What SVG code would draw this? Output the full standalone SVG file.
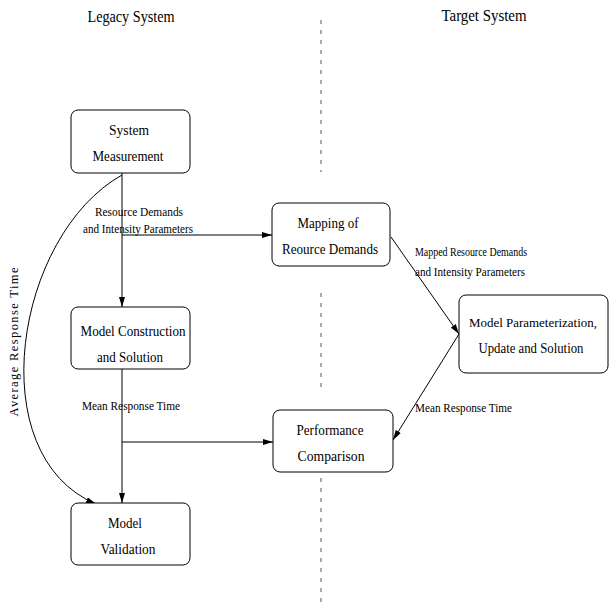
<svg xmlns="http://www.w3.org/2000/svg" width="610" height="608" viewBox="0 0 610 608">
<style>
.box{fill:#fff;stroke:#000;stroke-width:1}
.t{font-family:"Liberation Serif","Times New Roman",serif;font-size:15px;fill:#000;text-anchor:middle}
.l{font-family:"Liberation Serif","Times New Roman",serif;font-size:12.5px;fill:#000}
.h{font-family:"Liberation Serif","Times New Roman",serif;font-size:17px;fill:#000;text-anchor:middle}
.c{fill:none;stroke:#000;stroke-width:1}
.d{fill:none;stroke:#555;stroke-width:1;stroke-dasharray:4 6}
</style>
<defs>
<marker id="ah" viewBox="0 0 10 6" refX="10" refY="3" markerWidth="10" markerHeight="6" markerUnits="userSpaceOnUse" orient="auto">
<path d="M0,0 L10,3 L0,6 Z" fill="#000"/>
</marker>
</defs>
<rect width="610" height="608" fill="#fff"/>
<g id="titles">
<text class="h" x="131" y="22" textLength="87" lengthAdjust="spacingAndGlyphs">Legacy System</text>
<text class="h" x="484" y="21" textLength="85" lengthAdjust="spacingAndGlyphs">Target System</text>
</g>
<g id="divider">
<line class="d" x1="321" y1="20" x2="321" y2="172"/>
<line class="d" x1="321" y1="293" x2="321" y2="390"/>
<line class="d" x1="321" y1="478" x2="321" y2="606"/>
</g>
<g id="connectors">
<line class="c" x1="122" y1="173" x2="122" y2="307" marker-end="url(#ah)"/>
<line class="c" x1="122" y1="235" x2="272" y2="235" marker-end="url(#ah)"/>
<path class="c" d="M122,175 C15,235 -20,455 96,504" marker-end="url(#ah)"/>
<line class="c" x1="122" y1="369" x2="122" y2="503" marker-end="url(#ah)"/>
<line class="c" x1="122" y1="442" x2="273" y2="442" marker-end="url(#ah)"/>
<line class="c" x1="391" y1="237" x2="459" y2="334" marker-end="url(#ah)"/>
<line class="c" x1="459" y1="334" x2="393" y2="440" marker-end="url(#ah)"/>
<text class="l" x="139" y="216" text-anchor="middle" textLength="88" lengthAdjust="spacingAndGlyphs">Resource Demands</text>
<text class="l" x="138" y="233" text-anchor="middle" textLength="110" lengthAdjust="spacingAndGlyphs">and Intensity Parameters</text>
<text class="l" x="415" y="256" textLength="112" lengthAdjust="spacingAndGlyphs">Mapped Resource Demands</text>
<text class="l" x="415" y="276" textLength="110" lengthAdjust="spacingAndGlyphs">and Intensity Parameters</text>
<text class="l" x="82" y="410" textLength="98" lengthAdjust="spacingAndGlyphs">Mean Response Time</text>
<text class="l" x="415" y="412" textLength="97" lengthAdjust="spacingAndGlyphs">Mean Response Time</text>
<text class="l" transform="translate(18,342) rotate(-90)" text-anchor="middle" textLength="149" lengthAdjust="spacing">Average Response Time</text>
</g>
<g id="system-measurement">
<rect class="box" x="71" y="110" width="119" height="63" rx="7"/>
<text class="t" x="129" y="135" textLength="40" lengthAdjust="spacingAndGlyphs">System</text>
<text class="t" x="128" y="161" textLength="71" lengthAdjust="spacingAndGlyphs">Measurement</text>
</g>
<g id="mapping">
<rect class="box" x="272" y="203" width="118" height="63" rx="7"/>
<text class="t" x="328" y="228" textLength="61" lengthAdjust="spacingAndGlyphs">Mapping of</text>
<text class="t" x="330" y="254" textLength="96" lengthAdjust="spacingAndGlyphs">Reource Demands</text>
</g>
<g id="model-parameterization">
<rect class="box" x="459" y="295" width="149" height="78" rx="7"/>
<text class="t" x="533" y="327" style="font-size:13.5px" textLength="128" lengthAdjust="spacingAndGlyphs">Model Parameterization,</text>
<text class="t" x="531" y="353" textLength="105" lengthAdjust="spacingAndGlyphs">Update and Solution</text>
</g>
<g id="model-construction">
<rect class="box" x="71" y="307" width="119" height="62" rx="7"/>
<text class="t" x="133" y="336" textLength="105" lengthAdjust="spacingAndGlyphs">Model Construction</text>
<text class="t" x="130" y="362" textLength="66" lengthAdjust="spacingAndGlyphs">and Solution</text>
</g>
<g id="performance-comparison">
<rect class="box" x="273" y="410" width="120" height="62" rx="7"/>
<text class="t" x="330" y="435" textLength="67" lengthAdjust="spacingAndGlyphs">Performance</text>
<text class="t" x="331" y="461" textLength="67" lengthAdjust="spacingAndGlyphs">Comparison</text>
</g>
<g id="model-validation">
<rect class="box" x="71" y="503" width="119" height="62" rx="7"/>
<text class="t" x="125" y="528" textLength="34" lengthAdjust="spacingAndGlyphs">Model</text>
<text class="t" x="128" y="554" textLength="55" lengthAdjust="spacingAndGlyphs">Validation</text>
</g>
</svg>
